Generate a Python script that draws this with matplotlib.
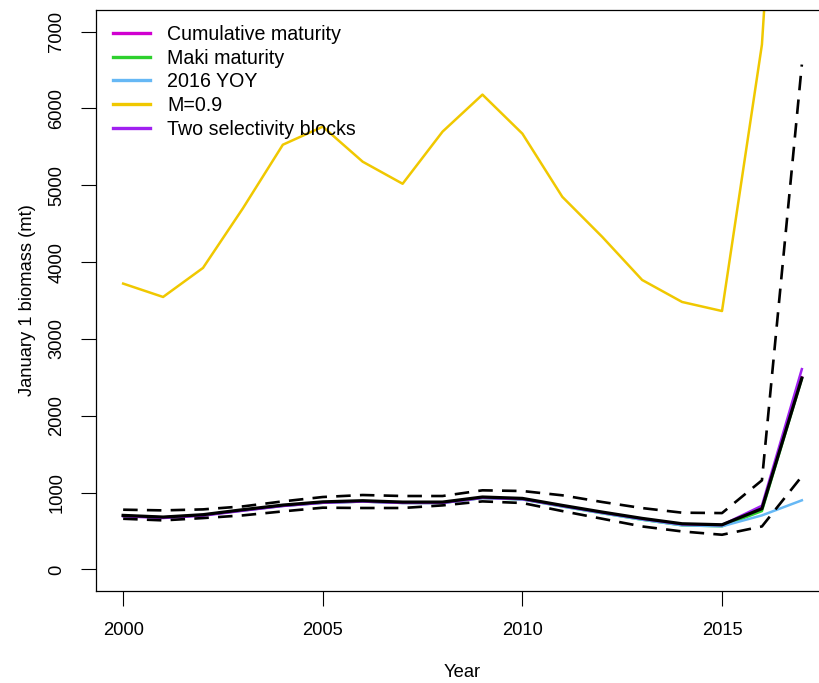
import matplotlib
matplotlib.use("Agg")
import matplotlib.pyplot as plt
import numpy as np

plt.rcParams['font.family'] = ['Liberation Sans', 'DejaVu Sans']

# Data
years = list(range(2000, 2018))

base = [704, 682, 713, 778, 838, 880, 895, 877, 877, 943, 925, 834, 747, 665, 595, 582, 791, 2490]
upper = [778, 769, 782, 821, 886, 943, 969, 956, 956, 1030, 1021, 965, 878, 799, 739, 734, 1160, 6570]
lower = [660, 639, 669, 704, 756, 804, 800, 800, 834, 886, 865, 760, 660, 560, 495, 452, 560, 1212]

cumulative = [700, 678, 709, 772, 832, 872, 888, 870, 870, 936, 918, 827, 740, 657, 585, 572, 800, 2500]
maki = [698, 676, 706, 768, 828, 868, 884, 866, 866, 930, 912, 820, 732, 648, 575, 562, 760, 2480]
yoy2016 = [698, 676, 706, 768, 828, 868, 884, 866, 866, 930, 912, 820, 732, 648, 575, 562, 704, 900]
m09 = [3720, 3546, 3924, 4700, 5527, 5762, 5306, 5019, 5697, 6179, 5671, 4849, 4328, 3767, 3481, 3363, 6830, 15000]
twoblocks = [692, 670, 700, 765, 826, 868, 884, 866, 866, 932, 915, 826, 740, 658, 588, 578, 830, 2607]

series = [
    ("Cumulative maturity", cumulative, "#D000D0"),
    ("Maki maturity", maki, "#2ED02E"),
    ("2016 YOY", yoy2016, "#66B8F5"),
    ("M=0.9", m09, "#F0C800"),
    ("Two selectivity blocks", twoblocks, "#A020F0"),
]

fig = plt.figure(figsize=(8.19, 6.83), dpi=100)
ax = fig.add_axes([96 / 819, 1 - 591 / 683, 733 / 819, 581 / 683])

# draw yellow first so it sits under the others
order = [3, 0, 1, 2, 4]
for i in order:
    name, vals, col = series[i]
    ax.plot(years, vals, color=col, lw=1.8, label=name, zorder=2 + order.index(i) * 0.1)

ax.plot(years, base, color="black", lw=2.3, zorder=4)
ax.plot(years, upper, color="black", lw=1.9, ls=(0, (5.5, 3.5)), zorder=4)
ax.plot(years, lower, color="black", lw=1.9, ls=(0, (5.5, 3.5)), zorder=4)

ax.set_xlim(1999.32, 2017.68)
ax.set_ylim(-280, 7280)
ax.set_xticks([2000, 2005, 2010, 2015])
ax.set_yticks(np.arange(0, 7001, 1000))
ax.tick_params(direction="out", length=11, width=0.8, labelsize=13.2, pad=11)
for lab in ax.get_yticklabels():
    lab.set_rotation(90)
    lab.set_va("center")

for s in ax.spines.values():
    s.set_linewidth(0.9)

ax.set_xlabel("Year", fontsize=13.2, labelpad=18)
ax.set_ylabel("January 1 biomass (mt)", fontsize=13.2, labelpad=9)

handles, labels = ax.get_legend_handles_labels()
hmap = dict(zip(labels, handles))
names = [s[0] for s in series]
leg = ax.legend([hmap[n] for n in names], names, loc="upper left", frameon=False,
                fontsize=14.1, handlelength=1.9, handletextpad=0.9, labelspacing=0.24,
                borderaxespad=0.3, bbox_to_anchor=(0.004, 0.998))
for h in leg.get_lines():
    h.set_linewidth(2.4)

fig.savefig("out.png", dpi=100)
